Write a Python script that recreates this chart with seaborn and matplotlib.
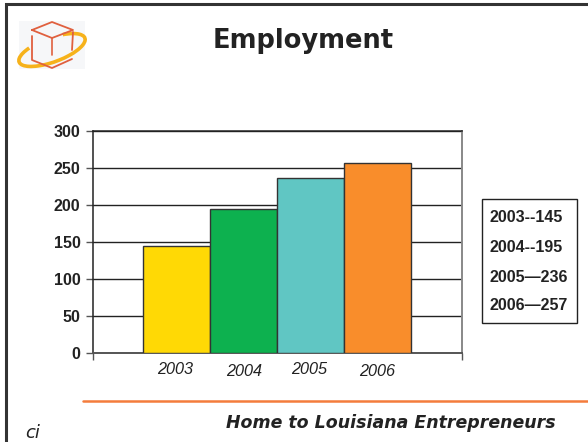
import matplotlib
matplotlib.use('Agg')
import matplotlib.pyplot as plt
from matplotlib.patches import Arc, Rectangle
import pandas as pd
import seaborn as sns

years = ['2003', '2004', '2005', '2006']
employment = [145, 195, 236, 257]
bar_colors = ['#FFD905', '#0DB14F', '#60C6C3', '#F98D2B']
box_lines = ['2003--145', '2004--195', '2005\u2014236', '2006\u2014257']
y_ticks = [0, 50, 100, 150, 200, 250, 300]

W, H = 588, 442
DARK = '#222222'

sns.set_theme(style='white')
plt.rcParams['font.family'] = ['Liberation Sans', 'DejaVu Sans']

df = pd.DataFrame({'Year': years, 'Employment': employment})

fig = plt.figure(figsize=(W / 100, H / 100), dpi=100, facecolor='white')

# chart area, placed in pixels
ax = fig.add_axes([93 / W, 1 - 353 / H, (462 - 93) / W, (353 - 131) / H])
sns.barplot(data=df, x='Year', y='Employment', hue='Year', palette=bar_colors, saturation=1,
            width=1, edgecolor='#333333', linewidth=1, legend=False, zorder=3, ax=ax)
ax.set_xlim(-1.244, 4.255)
ax.set_ylim(0, 300)
ax.set_yticks(y_ticks)
ax.set_yticklabels([str(v) for v in y_ticks], fontsize=11.5, fontweight='bold', color=DARK)
ax.set_xticks(ax.get_xlim())
ax.set_xticklabels(['', ''])
ax.set_xlabel('')
ax.set_ylabel('')
ax.tick_params(axis='both', length=5, width=1, color='#555555', pad=4, bottom=True, left=True)
ax.grid(axis='y', color=DARK, linewidth=1, zorder=1)
ax.set_axisbelow(True)
for side in ['top', 'left']:
    ax.spines[side].set_color(DARK)
    ax.spines[side].set_linewidth(1.1)
ax.spines['bottom'].set_color('#555555')
ax.spines['bottom'].set_linewidth(1.4)
ax.spines['right'].set_color('#888888')
ax.spines['right'].set_linewidth(1.4)

# overlay in pixel coordinates for the slide furniture
ov = fig.add_axes([0, 0, 1, 1], zorder=5)
ov.set_xlim(0, W)
ov.set_ylim(H, 0)
ov.axis('off')
ov.patch.set_alpha(0)

# slide frame, top and left only
ov.plot([6, 6, W], [H, 4, 4], color='#333333', lw=2.2, solid_joinstyle='miter')

# logo
ov.add_patch(Rectangle((19, 21), 66, 48, facecolor='#F6F7F9', edgecolor='none'))
ov.add_patch(Arc((52, 50), 70, 24, angle=-20, theta1=-35, theta2=205, color='#F6B21B', lw=2.6))
logo_red = '#E0603F'
ov.plot([32, 52, 73, 52, 32], [30, 22, 30, 38, 30], color=logo_red, lw=1.3)
ov.plot([52, 52], [38, 55], color=logo_red, lw=1.2)
ov.plot([73, 72], [32, 50], color=logo_red, lw=1.3)
ov.plot([32, 32, 52, 72], [36, 60, 68, 59], color=logo_red, lw=1.3)

# title and footer
ov.text(303, 41, 'Employment', fontsize=18.5, fontweight='bold', ha='center', va='center',
        family='DejaVu Sans', color=DARK)
ov.text(391, 423, 'Home to Louisiana Entrepreneurs', fontsize=12.5, fontweight='bold',
        fontstyle='italic', ha='center', va='center', family='DejaVu Sans', color=DARK)
ov.text(33, 433, 'ci', fontsize=13, fontstyle='italic', ha='center', va='center',
        family='DejaVu Sans', color=DARK)
ov.plot([83, W], [401, 401], color='#F47C3C', lw=1.8)

# year labels sit unevenly in the source
for label, x, y in zip(years, [175, 244, 309, 377], [369, 372, 369, 371]):
    ov.text(x, y, label, fontsize=11.7, fontstyle='italic', ha='center', va='center', color=DARK)

# value box
ov.add_patch(Rectangle((482, 199), 95, 124, facecolor='white', edgecolor=DARK, lw=1))
for line, y in zip(box_lines, [218, 247, 277, 306]):
    ov.text(489, y, line, fontsize=11.5, fontweight='bold', ha='left', va='center', color=DARK)

fig.savefig('out.png', dpi=100)
